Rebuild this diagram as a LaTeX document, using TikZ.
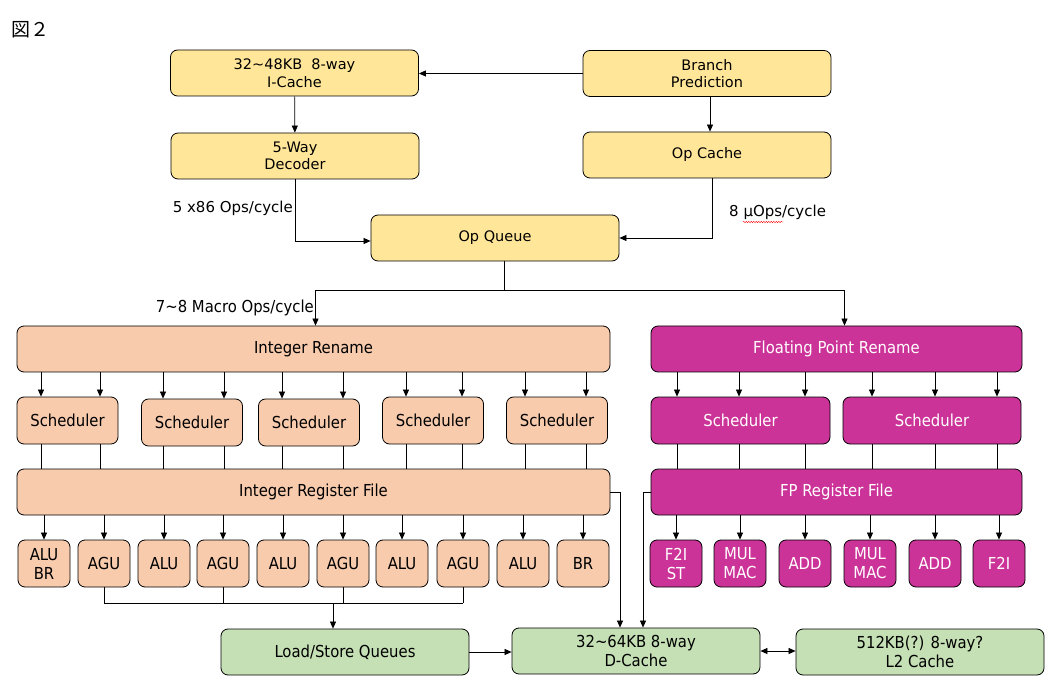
\documentclass[tikz,border=0pt]{standalone}
\usepackage{fontspec}
\setmainfont{DejaVu Sans}
\newfontfamily\condfont{DejaVu Sans Condensed}
\newfontfamily\cjkfont{Noto Sans CJK JP}
\usetikzlibrary{arrows.meta,decorations.pathmorphing}

\definecolor{fetchyellow}{HTML}{FFE699}
\definecolor{intorange}{HTML}{F8CBAD}
\definecolor{fpmagenta}{HTML}{CC3399}
\definecolor{memgreen}{HTML}{C5E0B4}

\tikzset{
  unit/.style={draw, line width=0.8pt, rounded corners=7pt, align=center, inner sep=0pt},
  fetchbox/.style={unit, fill=fetchyellow, minimum width=248pt, minimum height=46pt,
    font=\fontsize{14.5}{17.5}\selectfont},
  intbox/.style={unit, fill=intorange, font=\condfont\fontsize{16.5}{19}\selectfont},
  fpbox/.style={unit, fill=fpmagenta, text=white, font=\condfont\fontsize{16.5}{19}\selectfont},
  membox/.style={unit, fill=memgreen, minimum width=248pt, minimum height=46pt,
    font=\condfont\fontsize{16.5}{19}\selectfont},
  link/.style={-{Triangle[length=7pt,width=6pt]}, line width=0.7pt},
  wire/.style={line width=0.7pt},
  rate/.style={inner sep=0pt, font=\fontsize{15}{17}\selectfont},
}

\begin{document}
\begin{tikzpicture}[x=1pt, y=-1pt]
  \useasboundingbox (0,0) rectangle (1060,700);

  % title
  \node[anchor=west, inner sep=0pt, font=\cjkfont\fontsize{19}{21}\selectfont] (title) at (11,30) {図２};

  % front end
  \node[fetchbox] (ic) at (294.5,73) {32∼48KB~~8-way\\I-Cache};
  \node[fetchbox] (bp) at (707,73.5) {Branch\\Prediction};
  \node[fetchbox] (dec) at (295,156) {5-Way\\Decoder};
  \node[fetchbox] (opc) at (707,155) {Op Cache};
  \node[fetchbox] (oq) at (495,238) {Op Queue};

  \draw[link] (bp.west) -- (bp.west -| ic.east);
  \draw[link] (ic) -- (dec);
  \draw[link] ([xshift=3pt]bp.south) -- ([xshift=3pt]opc.north);
  \draw[link] (dec.south) |- ([yshift=-3pt]oq.west);
  \draw[link] ([xshift=5pt]opc.south) |- (oq.east);

  \node[rate, anchor=east] (decrate) at (293,208) {5 x86 Ops/cycle};
  \node[rate, anchor=west] (opcrate) at (729,212) {8 µOps/cycle};
  \draw[red, line width=0.4pt, decorate, decoration={snake, amplitude=0.7pt, segment length=2.5pt}]
    (743,222) -- (783,222); % spell-check mark

  % dispatch
  \node[intbox, minimum width=593pt, minimum height=46pt] (iren) at (313.5,349) {Integer Rename};
  \node[fpbox, minimum width=371pt, minimum height=46pt] (fpren) at (836.5,349) {Floating Point Rename};
  \coordinate (split) at ([xshift=9pt,yshift=-29pt]oq.south);
  \draw[wire] ([xshift=9pt]oq.south) -- (split);
  \draw[link] (split) -| ([xshift=2pt]iren.north);
  \draw[link] (split) -| ([xshift=8pt]fpren.north);
  \node[rate, anchor=east, font=\condfont\fontsize{16.5}{18}\selectfont] (disprate) at (314,308) {7∼8 Macro Ops/cycle};

  % integer side
  \node[intbox, minimum width=593pt, minimum height=46pt] (irf) at (313.5,492) {Integer Register File};
  \foreach \i/\cx/\cy in {1/67.5/420.5, 2/192/422.5, 3/309/422.5, 4/433/420.5, 5/557/420.5}
    \node[intbox, minimum width=101pt, minimum height=47pt] (isch\i) at (\cx,\cy) {Scheduler};
  \foreach \i/\xa/\xb in {1/43/102, 2/165/226, 3/284/345, 4/408/464, 5/527/588}
  {
    \coordinate (pa) at (\xa-2,0);
    \coordinate (pb) at (\xb-2,0);
    \draw[link] (iren.south -| pa) -- (isch\i.north -| pa);
    \draw[link] (iren.south -| pb) -- (isch\i.north -| pb);
    \draw[wire] (isch\i.south -| pa) -- (irf.north -| pa);
    \draw[wire] (isch\i.south -| pb) -- (irf.north -| pb);
  }
  \foreach \i/\cx/\txt in {1/44/{ALU\\BR}, 2/104/AGU, 3/164/ALU, 4/223/AGU, 5/283/ALU,
                           6/343/AGU, 7/402/ALU, 8/463/AGU, 9/523/ALU, 10/583/BR}
  {
    \node[intbox, minimum width=52pt, minimum height=47pt] (ieu\i) at (\cx,563.5) {\txt};
    \draw[link] (irf.south -| ieu\i) -- (ieu\i);
  }

  % floating point side
  \node[fpbox, minimum width=371pt, minimum height=46pt] (fprf) at (836.5,492) {FP Register File};
  \node[fpbox, minimum width=179pt, minimum height=47pt] (fsch1) at (740.5,420.5) {Scheduler};
  \node[fpbox, minimum width=178pt, minimum height=47pt] (fsch2) at (932,420.5) {Scheduler};
  \foreach \s/\x in {1/677, 1/739, 1/805, 2/872, 2/935, 2/997}
  {
    \coordinate (pf) at (\x,0);
    \draw[link] (fpren.south -| pf) -- (fsch\s.north -| pf);
    \draw[wire] (fsch\s.south -| pf) -- (fprf.north -| pf);
  }
  \foreach \i/\cx/\txt in {1/676/{F2I\\ST}, 2/740/{MUL\\MAC}, 3/805/ADD,
                           4/870/{MUL\\MAC}, 5/935/ADD, 6/999/F2I}
  {
    \node[fpbox, minimum width=52pt, minimum height=47pt] (feu\i) at (\cx,563.5) {\txt};
    \draw[link] (fprf.south -| feu\i) -- (feu\i);
  }

  % memory
  \node[membox] (lsq) at (345,652) {Load/Store Queues};
  \node[membox] (dc) at (636,651) {32∼64KB 8-way\\D-Cache};
  \node[membox] (l2) at (920,652) {512KB(?) 8-way?\\L2 Cache};

  \coordinate (agujoin) at (0,603);
  \foreach \i in {2,4,6,8}
    \draw[wire] (ieu\i.south) -- (ieu\i.south |- agujoin);
  \draw[wire] (ieu2.south |- agujoin) -- (ieu8.south |- agujoin);
  \coordinate (lsqin) at ([xshift=-12pt]lsq.north);
  \draw[link] (lsqin |- agujoin) -- (lsqin);

  \coordinate (dcin1) at ([xshift=-16pt]dc.north);
  \coordinate (dcin2) at ([xshift=7pt]dc.north);
  \draw[link] (irf.east) -| (dcin1);
  \draw[link] (fprf.west) -| (dcin2);
  \draw[link] (lsq.east) -- (lsq.east -| dc.west);
  \draw[link, {Triangle[length=7pt,width=6pt]}-{Triangle[length=7pt,width=6pt]}]
    (dc.east) -- (dc.east -| l2.west);
\end{tikzpicture}
\end{document}
